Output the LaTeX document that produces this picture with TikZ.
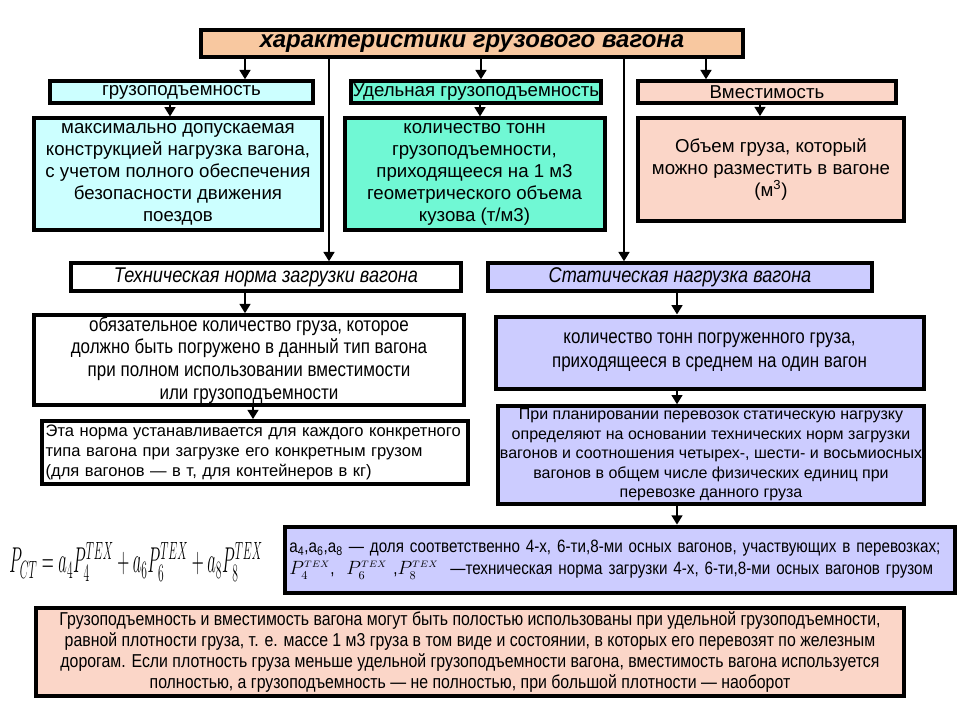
\documentclass[tikz,border=0pt]{standalone}
\usepackage{fontspec}
\usepackage{graphicx}
\setmainfont{Liberation Sans}
\newfontfamily\narrowfont[FakeStretch=0.85]{Liberation Sans}
\usetikzlibrary{arrows.meta}
\definecolor{titlefill}{HTML}{F8C8A0}
\definecolor{cyanfill}{HTML}{CCFFFF}
\definecolor{aquafill}{HTML}{70F8D4}
\definecolor{pinkfill}{HTML}{FBD6C8}
\definecolor{lilacfill}{HTML}{CCCCFF}
\begin{document}
\begin{tikzpicture}[
  x=0.75pt, y=-0.75pt, >={Triangle[length=7pt,width=8pt]},
  box/.style={draw, line width=3pt, align=center, inner sep=1pt, font=\fontsize{14}{16.5}\selectfont},
  narrowbox/.style={box, font=\narrowfont\fontsize{15}{17}\selectfont},
  arr/.style={->, line width=2pt}
]
  \useasboundingbox (0,0) rectangle (960,720);
  \node[box, fill=titlefill, minimum width=406pt, minimum height=20pt, inner ysep=0pt, font=\fontsize{18}{20}\selectfont\bfseries\itshape] (title) at (472,43.5) {характеристики грузового вагона};
  \node[box, fill=cyanfill, minimum width=197pt, minimum height=16pt] (grp) at (181.5,92) {грузоподъемность};
  \node[box, fill=aquafill, minimum width=187pt, minimum height=16pt] (udel) at (476,92) {Удельная грузоподъемность};
  \node[box, fill=pinkfill, minimum width=193pt, minimum height=16pt] (vmest) at (767,92) {Вместимость};
  \node[box, fill=cyanfill, minimum width=215.5pt, minimum height=84pt] (grpdef) at (178,174.5) {максимально допускаемая\\конструкцией нагрузка вагона,\\с учетом полного обеспечения\\безопасности движения\\поездов};
  \node[box, fill=aquafill, minimum width=195pt, minimum height=84pt] (udeldef) at (474.5,174.5) {количество тонн\\грузоподъемности,\\приходящееся на 1 м3\\геометрического объема\\кузова (т/м3)};
  \node[box, fill=pinkfill, minimum width=199pt, minimum height=77pt] (vmestdef) at (771,169.5) {Объем груза, который\\можно разместить в вагоне\\(м\textsuperscript{3})};
  \node[narrowbox, fill=white, minimum width=292pt, minimum height=20.5pt, font=\narrowfont\fontsize{16}{18}\selectfont\itshape] (tehn) at (266,277) {Техническая норма загрузки вагона};
  \node[narrowbox, fill=lilacfill, minimum width=287.5pt, minimum height=20.5pt, font=\narrowfont\fontsize{16}{18}\selectfont\itshape] (stat) at (680,277) {Статическая нагрузка вагона};
  \node[narrowbox, minimum width=322pt, minimum height=65.5pt] (tehndef) at (249,360) {обязательное количество груза, которое\\должно быть погружено в данный тип вагона\\при полном использовании вместимости\\или грузоподъемности};
  \node[narrowbox, fill=lilacfill, minimum width=321pt, minimum height=54pt, font=\narrowfont\fontsize{15}{18}\selectfont] (statdef) at (709.5,352.5) {количество тонн погруженного груза,\\приходящееся в среднем на один вагон};
  \node[box, align=left, text width=314pt, minimum height=47pt, inner xsep=3pt, font=\fontsize{12.4}{15}\selectfont] (tehnnote) at (255,452.5) {Эта норма устанавливается для каждого конкретного\\типа вагона при загрузке его конкретным грузом\\(для вагонов — в т, для контейнеров в кг)};
  \node[box, fill=lilacfill, minimum width=319pt, minimum height=73pt, font=\fontsize{12}{14.6}\selectfont] (statplan) at (711,455) {При планировании перевозок статическую нагрузку\\определяют на основании технических норм загрузки\\вагонов и соотношения четырех-, шести- и восьмиосных\\вагонов в общем числе физических единиц при\\перевозке данного груза};
  \node[font=\fontsize{20}{24}\selectfont] (formula) at (136,562) {\scalebox{0.6}[1.3]{$P_{CT}=a_4P_4^{TEX}+a_6P_6^{TEX}+a_8P_8^{TEX}$}};
  \node[box, fill=lilacfill, align=left, text width=496pt, minimum height=50pt, inner xsep=3pt, font=\narrowfont\fontsize{13.4}{16.5}\selectfont] (shares) at (620,560) {a\textsubscript{4},a\textsubscript{6},a\textsubscript{8} — доля соответственно 4-х, 6-ти,8-ми осных вагонов, участвующих в перевозках;\\$P_4^{\scriptscriptstyle TEX}$,\ \ $P_6^{\scriptscriptstyle TEX}$\ ,$P_8^{\scriptscriptstyle TEX}$\ \ —техническая норма загрузки 4-х, 6-ти,8-ми осных вагонов грузом};
  \node[box, fill=pinkfill, minimum width=650.5pt, minimum height=65.5pt, font=\narrowfont\fontsize{14}{15.75}\selectfont] (summary) at (470,652) {Грузоподъемность и вместимость вагона могут быть полостью использованы при удельной грузоподъемности,\\равной плотности груза, т. е. массе 1 м3 груза в том виде и состоянии, в которых его перевозят по железным\\дорогам. Если плотность груза меньше удельной грузоподъемности вагона, вместимость вагона используется\\полностью, а грузоподъемность — не полностью, при большой плотности — наоборот};
  \coordinate (xgrp) at (245,0);
  \coordinate (xudel) at (481,0);
  \coordinate (xvmest) at (706,0);
  \coordinate (xtehn) at (329,0);
  \coordinate (xstat) at (624,0);
  \coordinate (xgrpdef) at (170,0);
  \coordinate (xudeldef) at (480,0);
  \coordinate (xvmestdef) at (760,0);
  \coordinate (xtehndef) at (245,0);
  \coordinate (xnote) at (253,0);
  \coordinate (xright) at (677,0);
  \draw[arr] (title.south -| xgrp) -- (grp.north -| xgrp);
  \draw[arr] (title.south -| xudel) -- (udel.north -| xudel);
  \draw[arr] (title.south -| xvmest) -- (vmest.north -| xvmest);
  \draw[arr] (title.south -| xtehn) -- (tehn.north -| xtehn);
  \draw[arr] (title.south -| xstat) -- (stat.north -| xstat);
  \draw[arr] (grp.south -| xgrpdef) -- (grpdef.north -| xgrpdef);
  \draw[arr] (udel.south -| xudeldef) -- (udeldef.north -| xudeldef);
  \draw[arr] (vmest.south -| xvmestdef) -- (vmestdef.north -| xvmestdef);
  \draw[arr] (tehn.south -| xtehndef) -- (tehndef.north -| xtehndef);
  \draw[arr] (tehndef.south -| xnote) -- (tehnnote.north -| xnote);
  \draw[arr] (stat.south -| xright) -- (statdef.north -| xright);
  \draw[arr] (statdef.south -| xright) -- (statplan.north -| xright);
  \draw[arr] (statplan.south -| xright) -- (shares.north -| xright);
\end{tikzpicture}
\end{document}
